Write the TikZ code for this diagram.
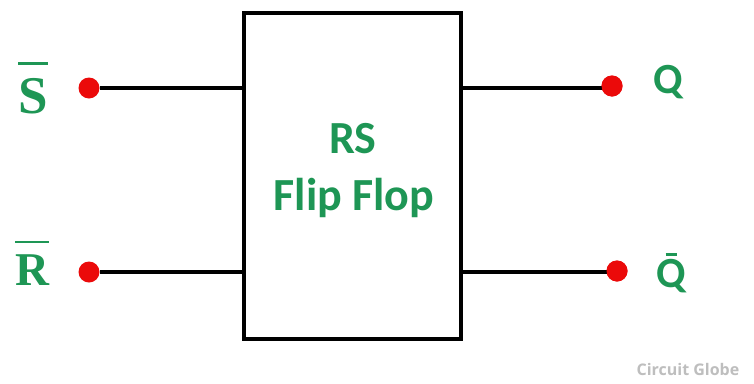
\documentclass[tikz,border=0pt]{standalone}
\usepackage{fontspec}
\setmainfont{Carlito}
\newfontfamily\serifface{Liberation Serif}
\newfontfamily\wmface{Open Sans}
\definecolor{lblgreen}{RGB}{30,150,85}
\definecolor{dotred}{RGB}{235,10,10}
\definecolor{wmgray}{RGB}{190,190,190}
\newcommand\barhi[2]{\setbox0\hbox{#2}\vbox{\offinterlineskip\hrule height 2.6pt\kern #1\box0}}
\newcommand\barlo[1]{\setbox0\hbox{#1}\vbox{\offinterlineskip\hbox to\wd0{\hss\vrule width 11pt height 2.6pt\hss}\kern 3pt\box0}}
\tikzset{
  wire/.style={line width=4pt},
  pin/.style={circle,fill=dotred,inner sep=0pt,minimum size=21pt},
  serlbl/.style={text=lblgreen,anchor=base,inner sep=0pt},
  sanslbl/.style={text=lblgreen,font=\bfseries\fontsize{43}{43}\selectfont,anchor=base,inner sep=0pt},
  boxlbl/.style={text=lblgreen,font=\bfseries\fontsize{46}{46}\selectfont,anchor=base,inner sep=0pt},
}
\begin{document}
\begin{tikzpicture}[x=1pt,y=-1pt]
\useasboundingbox[fill=white] (0,0) rectangle (754,383);
\node[draw,line width=4pt,minimum width=217pt,minimum height=326.5pt,inner sep=0pt] (ff) at (352.5,175.75) {};
\node[boxlbl] (rs) at (353,153) {RS};
\node[boxlbl] (flip) at (354,210) {Flip Flop};
\node[pin] (s) at (89,88) {};
\node[pin] (r) at (89,272) {};
\node[pin] (q) at (612,86) {};
\node[pin] (qb) at (617,271) {};
\draw[wire] (s) -- (s -| ff.west);
\draw[wire] (r) -- (r -| ff.west);
\draw[wire] (q.center |- 0,88) coordinate (qa) (qa) -- (qa -| ff.east);
\draw[wire] (qb.center |- 0,272) coordinate (qba) (qba) -- (qba -| ff.east);
\node[pin] at (q) {};
\node[pin] at (qb) {};
\node[serlbl,font=\serifface\bfseries\fontsize{53}{53}\selectfont] (sl) at (33,113) {\barhi{13pt}{S}};
\node[serlbl,font=\serifface\bfseries\fontsize{47}{47}\selectfont] (rl) at (32,285) {\barhi{11pt}{R}};
\node[sanslbl] (ql) at (668,93) {Q};
\node[sanslbl] (qbl) at (671,287) {\barlo{Q}};
\node[text=wmgray,font=\wmface\bfseries\fontsize{16}{16}\selectfont,anchor=base,inner sep=0pt] (wm) at (688,375) {Circuit Globe};
\end{tikzpicture}
\end{document}
